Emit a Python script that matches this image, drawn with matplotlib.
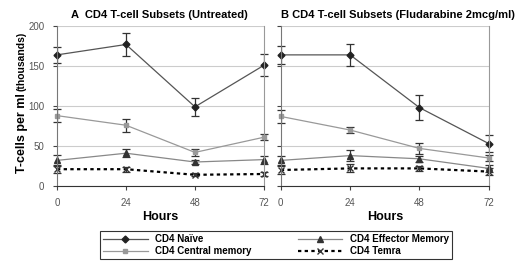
import numpy as np
import matplotlib.pyplot as plt
from matplotlib.lines import Line2D

hours = [0, 24, 48, 72]

# panel A (untreated), values in thousands of cells per ml
a_naive = [164, 177, 99, 151]
a_naive_err = [10, 14, 11, 14]
a_central = [88, 76, 42, 61]
a_central_err = [8, 8, 4, 4]
a_effector = [32, 41, 30, 33]
a_effector_err = [7, 5, 3, 5]
a_temra = [21, 21, 14, 15]
a_temra_err = [5, 3, 2, 3]

# panel B (fludarabine 2mcg/ml)
b_naive = [164, 164, 98, 53]
b_naive_err = [11, 14, 16, 11]
b_central = [87, 70, 47, 35]
b_central_err = [8, 4, 7, 4]
b_effector = [32, 38, 34, 22]
b_effector_err = [6, 7, 4, 4]
b_temra = [20, 22, 22, 18]
b_temra_err = [5, 5, 3, 4]

titles = ['A  CD4 T-cell Subsets (Untreated)', 'B CD4 T-cell Subsets (Fludarabine 2mcg/ml)']
labels = ['CD4 Naïve', 'CD4 Central memory', 'CD4 Effector Memory', 'CD4 Temra']

plt.rcParams['font.family'] = ['Liberation Sans', 'DejaVu Sans']

fig = plt.figure(figsize=(5.2, 2.71), dpi=100)
axA = fig.add_axes([0.1096, 0.3137, 0.398, 0.590])
axB = fig.add_axes([0.540, 0.3137, 0.400, 0.590])

panels = [
    (axA, a_naive, a_naive_err, a_central, a_central_err, a_effector, a_effector_err, a_temra, a_temra_err),
    (axB, b_naive, b_naive_err, b_central, b_central_err, b_effector, b_effector_err, b_temra, b_temra_err),
]

styles = [
    dict(color='#555555', lw=0.9, marker='D', ms=3.5, mfc='#222222', mec='#222222'),
    dict(color='#999999', lw=0.9, marker='s', ms=3, mfc='#999999', mec='#999999'),
    dict(color='#888888', lw=0.9, marker='^', ms=4, mfc='#333333', mec='#333333'),
    dict(color='black', lw=1.6, ls=(0, (1.5, 1.5)), marker='x', ms=4, mec='#333333'),
]
title_x = [0.07, 0.0]

for i, (ax, nv, nve, cm, cme, ef, efe, tm, tme) in enumerate(panels):
    eb = dict(capsize=3, ecolor='#333333', elinewidth=0.9, capthick=0.9)
    for (vals, errs), st in zip([(nv, nve), (cm, cme), (ef, efe), (tm, tme)], styles):
        ax.errorbar(hours, vals, yerr=errs, **st, **eb)

    ax.set_xlim(0, 72)
    ax.set_ylim(0, 200)
    ax.set_xticks(hours)
    ax.set_yticks([0, 50, 100, 150, 200])
    if i == 1:
        ax.set_yticklabels([])
    ax.yaxis.grid(True, color='#cccccc', lw=0.8)
    ax.set_axisbelow(True)
    ax.tick_params(labelsize=7, length=3, width=0.8, colors='#444444', labelcolor='#555555', pad=6)
    ax.spines['top'].set_visible(False)
    ax.spines['left'].set_color('#777777')
    ax.spines['right'].set_color('#999999')
    ax.spines['bottom'].set_color('#333333')
    for line in ax.get_lines():
        line.set_clip_on(False)
    ax.set_title(titles[i], fontsize=8, fontweight='bold', pad=6, x=title_x[i], ha='left')
    ax.set_xlabel('Hours', fontsize=9, fontweight='bold', labelpad=2)

fig.text(0.042, 0.36, 'T-cells per ml', rotation=90, fontsize=9, fontweight='bold',
         ha='center', va='bottom')
fig.text(0.042, 0.665, '(thousands)', rotation=90, fontsize=7.5, fontweight='bold',
         ha='center', va='bottom')

handles = [Line2D([], [], **st) for st in styles]
leg = fig.legend(handles, labels, ncol=2, loc='lower left', mode='expand',
                 bbox_to_anchor=(100 / 520, 12 / 271, 352 / 520, 28 / 271),
                 prop={'weight': 'bold', 'size': 7}, frameon=True, fancybox=False,
                 edgecolor='black', handlelength=4.6, columnspacing=2.5, borderpad=0.3,
                 labelspacing=0.2, borderaxespad=0)
leg.get_frame().set_linewidth(0.8)

fig.savefig('out.png', dpi=100)
